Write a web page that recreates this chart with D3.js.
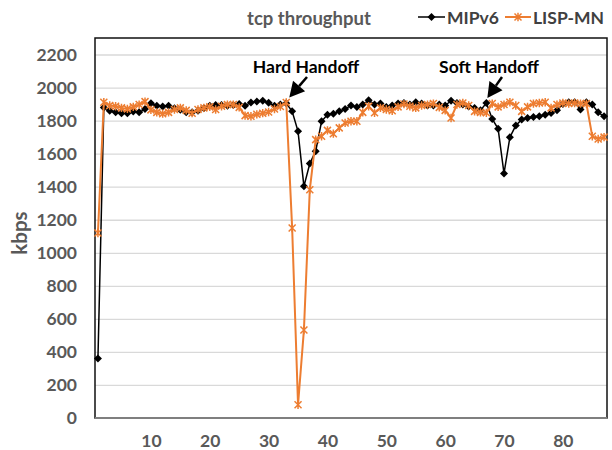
<!DOCTYPE html>
<html><head><meta charset="utf-8">
<script src="https://cdn.jsdelivr.net/npm/d3@7"></script>
<style>body{margin:0;background:#fff}svg{display:block}text{font-family:Lato,"Open Sans",sans-serif;font-weight:bold}</style>
</head><body><svg id="c" width="612" height="450"></svg>
<script>
const samples = d3.range(1, 88);
const mipv6 = [360,1880,1860,1850,1845,1845,1855,1850,1870,1905,1890,1885,1890,1875,1865,1850,1850,1860,1875,1890,1895,1895,1890,1895,1900,1890,1910,1915,1920,1908,1890,1897,1905,1856,1735,1402,1540,1615,1796,1836,1842,1856,1871,1891,1883,1897,1923,1897,1903,1883,1891,1903,1907,1897,1911,1903,1891,1891,1897,1891,1920,1907,1897,1885,1877,1862,1907,1810,1750,1480,1700,1770,1806,1816,1822,1826,1836,1846,1862,1900,1911,1911,1867,1911,1897,1850,1826];
const lispmn = [1120,1911,1891,1887,1877,1871,1883,1897,1915,1865,1850,1842,1850,1867,1877,1862,1845,1867,1877,1883,1867,1887,1897,1897,1880,1830,1826,1838,1845,1852,1870,1885,1910,1150,80,533,1382,1685,1705,1741,1721,1756,1786,1796,1796,1850,1887,1847,1877,1867,1860,1883,1900,1887,1877,1891,1897,1903,1880,1862,1816,1897,1907,1891,1856,1850,1847,1903,1883,1897,1911,1891,1856,1883,1903,1907,1911,1877,1897,1907,1903,1907,1903,1903,1705,1689,1700];
const yTicks = [0,200,400,600,800,1000,1200,1400,1600,1800,2000,2200];
const xTicks = [10,20,30,40,50,60,70,80];
const seriesNames = ["MIPv6","LISP-MN"];
const titleText = "tcp throughput";
const yLabel = "kbps";
const annotations = [{text:"Hard Handoff", at:33, series:"LISP-MN"},{text:"Soft Handoff", at:67, series:"MIPv6"}];

const svg = d3.select("#c");
const L=95, R=607, T=38, B=418;
const x = d3.scaleLinear().domain([0.5, 87.5]).range([L, R]);
const y = d3.scaleLinear().domain([0, 2300]).range([B, T]);
const grey = "#595959", orange = "#ED7D31";

// gridlines
svg.append("g").attr("transform",`translate(${L},0)`)
  .call(d3.axisLeft(y).tickValues(yTicks.filter(v=>v>0)).tickSize(-(R-L)).tickFormat(""))
  .call(g=>g.select(".domain").remove())
  .call(g=>g.selectAll("line").attr("stroke","#d9d9d9").attr("stroke-width",1.3));

// y axis labels
svg.append("g").attr("transform",`translate(${L},0)`)
  .call(d3.axisLeft(y).tickValues(yTicks).tickSize(0).tickPadding(18).tickFormat(d3.format("d")))
  .call(g=>g.select(".domain").remove())
  .call(g=>g.selectAll("text").attr("fill",grey).attr("font-size",17.5).attr("font-family","Lato").attr("font-weight","bold"));

// x axis labels
svg.append("g").attr("transform",`translate(0,${B})`)
  .call(d3.axisBottom(x).tickValues(xTicks).tickSize(0).tickPadding(17))
  .call(g=>g.select(".domain").remove())
  .call(g=>g.selectAll("text").attr("fill",grey).attr("font-size",17.5).attr("font-family","Lato").attr("font-weight","bold"));

// frame
svg.append("rect").attr("x",L).attr("y",T).attr("width",R-L).attr("height",B-T)
  .attr("fill","none").attr("stroke","#111").attr("stroke-width",1.5);
svg.append("line").attr("x1",L).attr("x2",R).attr("y1",B).attr("y2",B).attr("stroke","#7f7f7f").attr("stroke-width",2.2);

// y label
svg.append("text").attr("transform","translate(27,233) rotate(-90)").attr("text-anchor","middle")
  .attr("fill",grey).attr("font-size",20.5).text(yLabel);

// title
svg.append("text").attr("x",309).attr("y",25).attr("text-anchor","middle").attr("fill",grey).attr("font-size",18.5).text(titleText);

const line = d3.line().x((d,i)=>x(samples[i])).y(d=>y(d));
const diamond = "M0,-4L4,0L0,4L-4,0Z";
const star = "M-3.5,-3.5L3.5,3.5M-3.5,3.5L3.5,-3.5M0,-4.2L0,4.2";

// MIPv6
svg.append("path").datum(mipv6).attr("d",line).attr("fill","none").attr("stroke","#000").attr("stroke-width",1.5);
svg.append("g").selectAll("path").data(mipv6).join("path")
  .attr("transform",(d,i)=>`translate(${x(samples[i])},${y(d)})`).attr("d",diamond).attr("fill","#000");

// LISP-MN
svg.append("path").datum(lispmn).attr("d",line).attr("fill","none").attr("stroke",orange).attr("stroke-width",2);
svg.append("g").selectAll("path").data(lispmn).join("path")
  .attr("transform",(d,i)=>`translate(${x(samples[i])},${y(d)})`).attr("d",star).attr("fill","none").attr("stroke",orange).attr("stroke-width",1.5);

// legend
const lg = svg.append("g");
lg.append("line").attr("x1",418).attr("x2",445).attr("y1",17).attr("y2",17).attr("stroke","#000").attr("stroke-width",1.5);
lg.append("path").attr("transform","translate(431.5,17)").attr("d",diamond).attr("fill","#000");
lg.append("text").attr("x",447).attr("y",23.5).attr("fill","#404040").attr("font-size",17.5).text(seriesNames[0]);
lg.append("line").attr("x1",505).attr("x2",531).attr("y1",17).attr("y2",17).attr("stroke",orange).attr("stroke-width",2);
lg.append("path").attr("transform","translate(518,17)").attr("d",star).attr("fill","none").attr("stroke",orange).attr("stroke-width",1.5);
lg.append("text").attr("x",533).attr("y",23.5).attr("fill","#404040").attr("font-size",17.5).text(seriesNames[1]);

// annotations
const ann = [
  {t:annotations[0], tx:306, ty:73, from:[307,77], to:[x(annotations[0].at)+3, y(lispmn[annotations[0].at-1])-5]},
  {t:annotations[1], tx:489, ty:73, from:[502,77], to:[x(annotations[1].at)+1, y(mipv6[annotations[1].at-1])-5]}
];
ann.forEach(a=>{
  svg.append("text").attr("x",a.tx).attr("y",a.ty).attr("text-anchor","middle").attr("fill","#000").attr("font-size",17.5).text(a.t.text);
  const [x1,y1]=a.from,[x2,y2]=a.to;
  const ang=Math.atan2(y2-y1,x2-x1), hl=15, hw=8;
  const bx=x2-hl*Math.cos(ang), by=y2-hl*Math.sin(ang);
  svg.append("line").attr("x1",x1).attr("y1",y1).attr("x2",bx).attr("y2",by).attr("stroke","#000").attr("stroke-width",2.5);
  svg.append("path").attr("d",`M${x2},${y2}L${bx+hw*Math.sin(ang)},${by-hw*Math.cos(ang)}L${bx-hw*Math.sin(ang)},${by+hw*Math.cos(ang)}Z`).attr("fill","#000");
});
</script></body></html>
